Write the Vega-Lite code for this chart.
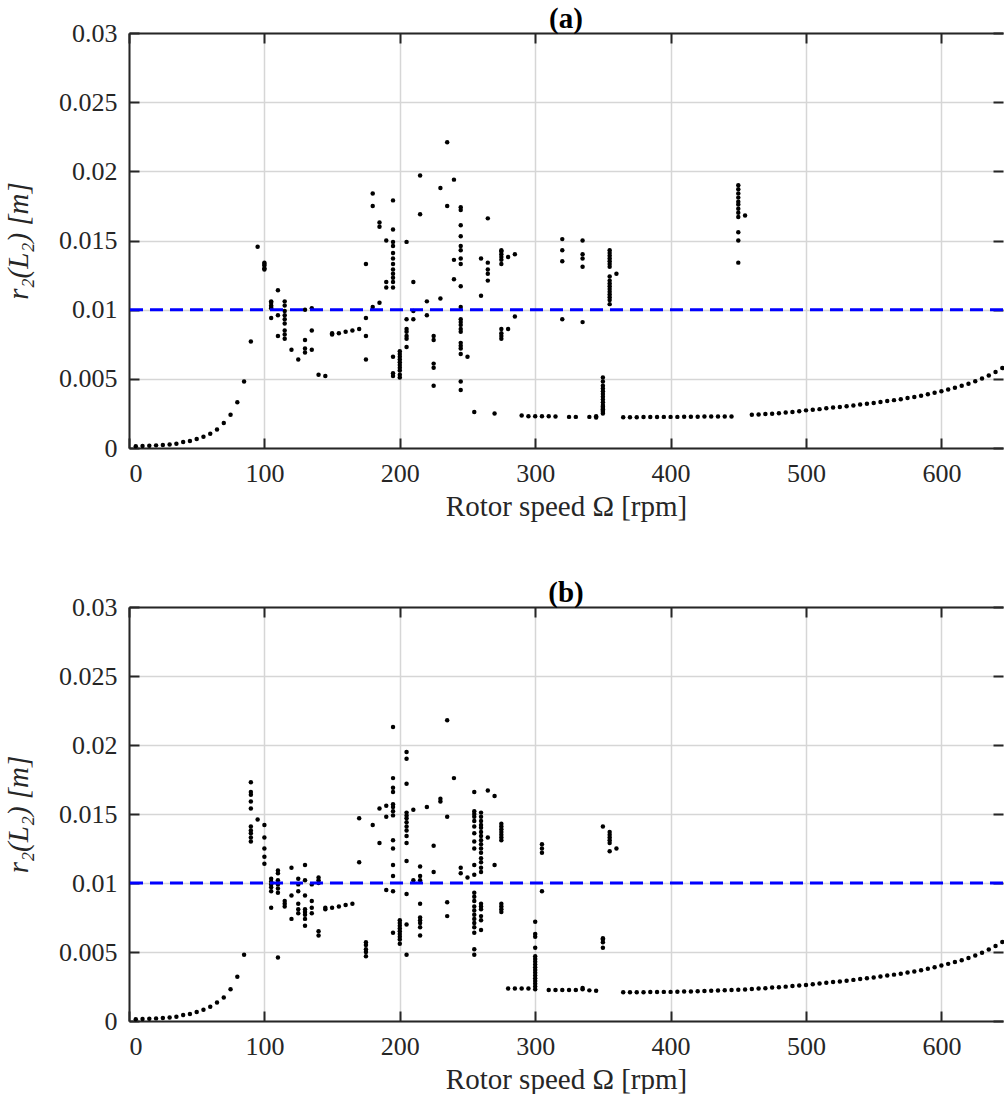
{
  "$schema": "https://vega.github.io/schema/vega-lite/v6.json",
  "padding": {"left": 4, "top": 5, "right": 0, "bottom": 0},
  "background": "white",
  "config": {
    "font": "Liberation Serif",
    "view": {"stroke": null},
    "axis": {
      "labelFont": "Liberation Serif", "titleFont": "Liberation Serif",
      "labelFontSize": 26, "titleFontSize": 29,
      "labelColor": "#262626", "titleColor": "#262626", "titleFontWeight": "normal",
      "tickColor": "#262626", "tickWidth": 2, "tickSize": -10,
      "domain": true, "domainColor": "#262626", "domainWidth": 2,
      "gridColor": "#d6d6d6", "gridWidth": 1.5
    },
    "title": {"font": "Liberation Serif", "fontSize": 29, "fontWeight": "bold", "color": "#000000", "anchor": "middle", "baseline": "alphabetic", "offset": -14, "frame": "group"}
  },
  "datasets": {
    "a": [
      {"x":5,"y":0.00012},{"x":10,"y":0.00014},{"x":15,"y":0.00017},{"x":20,"y":0.00019},{"x":25,"y":0.00022},{"x":30,"y":0.00026},{"x":35,"y":0.00031},{"x":40,"y":0.00043},{"x":45,"y":0.0005},{"x":50,"y":0.00065},{"x":55,"y":0.00082},{"x":60,"y":0.00103},{"x":65,"y":0.00134},{"x":70,"y":0.0018},{"x":75,"y":0.0024},{"x":80,"y":0.0033},{"x":85,"y":0.0048},
      {"x":90,"y":0.0077},{"x":95,"y":0.01455},
      {"x":100,"y":0.0134},{"x":100,"y":0.0133},{"x":100,"y":0.0132},{"x":100,"y":0.013},{"x":100,"y":0.0129},
      {"x":105,"y":0.0106},{"x":105,"y":0.0105},{"x":105,"y":0.0103},{"x":105,"y":0.0102},{"x":105,"y":0.0101},{"x":105,"y":0.0094},
      {"x":110,"y":0.0114},{"x":110,"y":0.0096},{"x":110,"y":0.0081},
      {"x":115,"y":0.0106},{"x":115,"y":0.0103},{"x":115,"y":0.0099},{"x":115,"y":0.0096},{"x":115,"y":0.0093},{"x":115,"y":0.009},{"x":115,"y":0.0085},{"x":115,"y":0.0082},{"x":115,"y":0.0079},
      {"x":120,"y":0.0071},{"x":125,"y":0.0064},
      {"x":130,"y":0.01},{"x":130,"y":0.0078},{"x":130,"y":0.0072},{"x":130,"y":0.0069},
      {"x":135,"y":0.0101},{"x":135,"y":0.0085},{"x":135,"y":0.0071},
      {"x":140,"y":0.0053},{"x":145,"y":0.0052},
      {"x":150,"y":0.0083},{"x":150,"y":0.0082},{"x":155,"y":0.0083},{"x":160,"y":0.0084},{"x":165,"y":0.0085},{"x":170,"y":0.0086},
      {"x":175,"y":0.0133},{"x":175,"y":0.0094},{"x":175,"y":0.0081},{"x":175,"y":0.0064},
      {"x":180,"y":0.0184},{"x":180,"y":0.0175},{"x":180,"y":0.0102},
      {"x":185,"y":0.0163},{"x":185,"y":0.016},{"x":185,"y":0.0105},
      {"x":190,"y":0.015},{"x":190,"y":0.012},{"x":190,"y":0.0116},
      {"x":195,"y":0.0179},{"x":195,"y":0.0158},{"x":195,"y":0.0149},{"x":195,"y":0.0146},{"x":195,"y":0.0141},{"x":195,"y":0.0137},{"x":195,"y":0.0133},{"x":195,"y":0.0129},{"x":195,"y":0.0126},{"x":195,"y":0.0123},{"x":195,"y":0.012},{"x":195,"y":0.0116},{"x":195,"y":0.0066},{"x":195,"y":0.0054},{"x":195,"y":0.0052},
      {"x":200,"y":0.007},{"x":200,"y":0.0068},{"x":200,"y":0.0066},{"x":200,"y":0.0064},{"x":200,"y":0.0062},{"x":200,"y":0.006},{"x":200,"y":0.0058},{"x":200,"y":0.0056},{"x":200,"y":0.0053},{"x":200,"y":0.0051},
      {"x":205,"y":0.0149},{"x":205,"y":0.0093},{"x":205,"y":0.0086},{"x":205,"y":0.0084},{"x":205,"y":0.0081},{"x":205,"y":0.0079},{"x":205,"y":0.0073},
      {"x":210,"y":0.012},{"x":210,"y":0.0099},{"x":210,"y":0.0093},
      {"x":215,"y":0.0197},{"x":215,"y":0.0169},
      {"x":220,"y":0.0106},{"x":220,"y":0.0096},
      {"x":225,"y":0.0081},{"x":225,"y":0.0078},{"x":225,"y":0.0061},{"x":225,"y":0.0058},{"x":225,"y":0.0045},
      {"x":230,"y":0.0188},{"x":230,"y":0.0108},
      {"x":235,"y":0.0221},{"x":235,"y":0.0175},
      {"x":240,"y":0.0194},{"x":240,"y":0.0136},{"x":240,"y":0.0122},
      {"x":245,"y":0.0174},{"x":245,"y":0.0172},{"x":245,"y":0.0161},{"x":245,"y":0.0153},{"x":245,"y":0.0146},{"x":245,"y":0.0143},{"x":245,"y":0.0137},{"x":245,"y":0.0133},{"x":245,"y":0.0117},{"x":245,"y":0.0102},{"x":245,"y":0.0093},{"x":245,"y":0.0091},{"x":245,"y":0.0089},{"x":245,"y":0.0086},{"x":245,"y":0.0084},{"x":245,"y":0.0076},{"x":245,"y":0.0074},{"x":245,"y":0.0072},{"x":245,"y":0.0068},{"x":245,"y":0.0048},{"x":245,"y":0.0042},
      {"x":250,"y":0.0066},{"x":255,"y":0.0026},
      {"x":260,"y":0.0137},{"x":260,"y":0.011},
      {"x":265,"y":0.0166},{"x":265,"y":0.0134},{"x":265,"y":0.0129},{"x":265,"y":0.0126},{"x":265,"y":0.0121},
      {"x":270,"y":0.0025},
      {"x":275,"y":0.0143},{"x":275,"y":0.0142},{"x":275,"y":0.014},{"x":275,"y":0.0138},{"x":275,"y":0.0136},{"x":275,"y":0.0133},{"x":275,"y":0.0086},{"x":275,"y":0.0083},{"x":275,"y":0.0081},{"x":275,"y":0.0079},
      {"x":280,"y":0.0138},{"x":280,"y":0.0086},
      {"x":285,"y":0.014},{"x":285,"y":0.0095},
      {"x":290,"y":0.00235},{"x":295,"y":0.0023},{"x":300,"y":0.0023},{"x":305,"y":0.0023},{"x":310,"y":0.0023},{"x":315,"y":0.00228},
      {"x":320,"y":0.0151},{"x":320,"y":0.0143},{"x":320,"y":0.0135},{"x":320,"y":0.0093},
      {"x":325,"y":0.00225},{"x":330,"y":0.00225},
      {"x":335,"y":0.015},{"x":335,"y":0.014},{"x":335,"y":0.0137},{"x":335,"y":0.0131},{"x":335,"y":0.0091},
      {"x":340,"y":0.00225},{"x":345,"y":0.0023},{"x":345,"y":0.0022},
      {"x":350,"y":0.0051},{"x":350,"y":0.0048},{"x":350,"y":0.0045},{"x":350,"y":0.0043},{"x":350,"y":0.0041},{"x":350,"y":0.0039},{"x":350,"y":0.0037},{"x":350,"y":0.0035},{"x":350,"y":0.0033},{"x":350,"y":0.0031},{"x":350,"y":0.003},{"x":350,"y":0.0029},{"x":350,"y":0.0028},{"x":350,"y":0.0027},{"x":350,"y":0.0026},{"x":350,"y":0.0025},
      {"x":355,"y":0.0143},{"x":355,"y":0.0141},{"x":355,"y":0.0139},{"x":355,"y":0.0137},{"x":355,"y":0.0135},{"x":355,"y":0.0133},{"x":355,"y":0.0131},{"x":355,"y":0.0124},{"x":355,"y":0.0121},{"x":355,"y":0.0119},{"x":355,"y":0.0117},{"x":355,"y":0.0115},{"x":355,"y":0.0113},{"x":355,"y":0.0111},{"x":355,"y":0.0109},{"x":355,"y":0.0107},{"x":355,"y":0.0104},
      {"x":360,"y":0.0126},
      {"x":365,"y":0.00223},{"x":370,"y":0.00223},{"x":375,"y":0.00223},{"x":380,"y":0.00224},{"x":385,"y":0.00224},{"x":390,"y":0.00224},{"x":395,"y":0.00225},{"x":400,"y":0.00225},{"x":405,"y":0.00225},{"x":410,"y":0.00226},{"x":415,"y":0.00226},{"x":420,"y":0.00226},{"x":425,"y":0.00227},{"x":430,"y":0.00227},{"x":435,"y":0.00228},{"x":440,"y":0.00228},{"x":445,"y":0.00228},
      {"x":450,"y":0.019},{"x":450,"y":0.0187},{"x":450,"y":0.0184},{"x":450,"y":0.0181},{"x":450,"y":0.0178},{"x":450,"y":0.0176},{"x":450,"y":0.0173},{"x":450,"y":0.017},{"x":450,"y":0.0167},{"x":450,"y":0.0156},{"x":450,"y":0.015},{"x":450,"y":0.0134},
      {"x":455,"y":0.0168},
      {"x":460,"y":0.0024},{"x":465,"y":0.00242},{"x":470,"y":0.00245},{"x":475,"y":0.00248},{"x":480,"y":0.00252},{"x":485,"y":0.00256},{"x":490,"y":0.0026},{"x":495,"y":0.00266},{"x":500,"y":0.00272},{"x":505,"y":0.00276},{"x":510,"y":0.00281},{"x":515,"y":0.00287},{"x":520,"y":0.00292},{"x":525,"y":0.00297},{"x":530,"y":0.00302},{"x":535,"y":0.00308},{"x":540,"y":0.00314},{"x":545,"y":0.0032},{"x":550,"y":0.00326},{"x":555,"y":0.00332},{"x":560,"y":0.00339},{"x":565,"y":0.00346},{"x":570,"y":0.00353},{"x":575,"y":0.00361},{"x":580,"y":0.00369},{"x":585,"y":0.00378},{"x":590,"y":0.00388},{"x":595,"y":0.00399},{"x":600,"y":0.00411},{"x":605,"y":0.00423},{"x":610,"y":0.00436},{"x":615,"y":0.0045},{"x":620,"y":0.00465},{"x":625,"y":0.00482},{"x":630,"y":0.00502},{"x":635,"y":0.00524},{"x":640,"y":0.00549},{"x":645,"y":0.00578}
    ],
    "b": [
      {"x":5,"y":0.00012},{"x":10,"y":0.00014},{"x":15,"y":0.00017},{"x":20,"y":0.00019},{"x":25,"y":0.00022},{"x":30,"y":0.00026},{"x":35,"y":0.00031},{"x":40,"y":0.00043},{"x":45,"y":0.0005},{"x":50,"y":0.00065},{"x":55,"y":0.00082},{"x":60,"y":0.00103},{"x":65,"y":0.00134},{"x":70,"y":0.0017},{"x":75,"y":0.0023},{"x":80,"y":0.0032},{"x":85,"y":0.0048},
      {"x":90,"y":0.0173},{"x":90,"y":0.0166},{"x":90,"y":0.0164},{"x":90,"y":0.0159},{"x":90,"y":0.0154},{"x":90,"y":0.0141},{"x":90,"y":0.0138},{"x":90,"y":0.0136},{"x":90,"y":0.0133},{"x":90,"y":0.013},
      {"x":95,"y":0.0146},
      {"x":100,"y":0.0142},{"x":100,"y":0.0133},{"x":100,"y":0.0125},{"x":100,"y":0.0119},{"x":100,"y":0.0114},
      {"x":105,"y":0.0103},{"x":105,"y":0.0101},{"x":105,"y":0.0099},{"x":105,"y":0.0097},{"x":105,"y":0.0094},{"x":105,"y":0.0082},
      {"x":110,"y":0.0109},{"x":110,"y":0.0107},{"x":110,"y":0.0102},{"x":110,"y":0.0099},{"x":110,"y":0.0096},{"x":110,"y":0.0093},{"x":110,"y":0.0046},
      {"x":115,"y":0.0087},{"x":115,"y":0.0085},{"x":115,"y":0.0083},
      {"x":120,"y":0.0111},{"x":120,"y":0.0091},{"x":120,"y":0.0074},
      {"x":125,"y":0.0103},{"x":125,"y":0.0099},{"x":125,"y":0.0094},{"x":125,"y":0.0085},{"x":125,"y":0.0081},{"x":125,"y":0.0078},
      {"x":130,"y":0.0113},{"x":130,"y":0.0102},{"x":130,"y":0.0091},{"x":130,"y":0.0081},{"x":130,"y":0.0079},{"x":130,"y":0.0077},{"x":130,"y":0.0074},{"x":130,"y":0.0069},
      {"x":135,"y":0.0099},{"x":135,"y":0.0087},{"x":135,"y":0.0082},{"x":135,"y":0.0078},
      {"x":140,"y":0.0104},{"x":140,"y":0.0102},{"x":140,"y":0.01},{"x":140,"y":0.0065},{"x":140,"y":0.0062},
      {"x":145,"y":0.0082},{"x":145,"y":0.0081},{"x":150,"y":0.0082},{"x":155,"y":0.0083},{"x":160,"y":0.0084},{"x":165,"y":0.0085},
      {"x":170,"y":0.0147},{"x":170,"y":0.0115},
      {"x":175,"y":0.0057},{"x":175,"y":0.0055},{"x":175,"y":0.0052},{"x":175,"y":0.005},{"x":175,"y":0.0047},
      {"x":180,"y":0.0142},
      {"x":185,"y":0.0154},{"x":185,"y":0.0129},
      {"x":190,"y":0.0156},{"x":190,"y":0.0148},{"x":190,"y":0.0095},
      {"x":195,"y":0.0213},{"x":195,"y":0.0176},{"x":195,"y":0.0169},{"x":195,"y":0.0166},{"x":195,"y":0.0157},{"x":195,"y":0.0155},{"x":195,"y":0.0152},{"x":195,"y":0.0149},{"x":195,"y":0.0131},{"x":195,"y":0.0125},{"x":195,"y":0.0113},{"x":195,"y":0.0105},{"x":195,"y":0.0094},{"x":195,"y":0.0064},
      {"x":200,"y":0.0073},{"x":200,"y":0.0071},{"x":200,"y":0.0069},{"x":200,"y":0.0067},{"x":200,"y":0.0065},{"x":200,"y":0.0063},{"x":200,"y":0.0061},{"x":200,"y":0.0059},{"x":200,"y":0.0056},
      {"x":205,"y":0.0195},{"x":205,"y":0.019},{"x":205,"y":0.0172},{"x":205,"y":0.0151},{"x":205,"y":0.0149},{"x":205,"y":0.0147},{"x":205,"y":0.0144},{"x":205,"y":0.0141},{"x":205,"y":0.0138},{"x":205,"y":0.0134},{"x":205,"y":0.0129},{"x":205,"y":0.0116},{"x":205,"y":0.0092},{"x":205,"y":0.007},{"x":205,"y":0.0048},
      {"x":210,"y":0.0153},{"x":210,"y":0.0102},
      {"x":215,"y":0.0112},{"x":215,"y":0.0105},{"x":215,"y":0.0102},{"x":215,"y":0.0085},{"x":215,"y":0.0075},{"x":215,"y":0.0073},{"x":215,"y":0.0071},{"x":215,"y":0.0068},{"x":215,"y":0.0062},
      {"x":220,"y":0.0155},
      {"x":225,"y":0.0127},{"x":225,"y":0.0108},
      {"x":230,"y":0.0161},{"x":230,"y":0.0159},
      {"x":235,"y":0.0218},{"x":235,"y":0.0148},{"x":235,"y":0.0086},{"x":235,"y":0.0076},
      {"x":240,"y":0.0176},
      {"x":245,"y":0.0111},{"x":245,"y":0.0107},
      {"x":250,"y":0.0104},
      {"x":255,"y":0.0166},{"x":255,"y":0.0152},{"x":255,"y":0.015},{"x":255,"y":0.0148},{"x":255,"y":0.0145},{"x":255,"y":0.0141},{"x":255,"y":0.0136},{"x":255,"y":0.013},{"x":255,"y":0.0125},{"x":255,"y":0.0113},{"x":255,"y":0.0106},{"x":255,"y":0.0093},{"x":255,"y":0.009},{"x":255,"y":0.0087},{"x":255,"y":0.0083},{"x":255,"y":0.008},{"x":255,"y":0.0077},{"x":255,"y":0.0074},{"x":255,"y":0.0071},{"x":255,"y":0.0068},{"x":255,"y":0.0064},{"x":255,"y":0.0052},{"x":255,"y":0.0048},
      {"x":260,"y":0.0151},{"x":260,"y":0.0148},{"x":260,"y":0.0145},{"x":260,"y":0.0142},{"x":260,"y":0.014},{"x":260,"y":0.0137},{"x":260,"y":0.0134},{"x":260,"y":0.0131},{"x":260,"y":0.0128},{"x":260,"y":0.0125},{"x":260,"y":0.0122},{"x":260,"y":0.0118},{"x":260,"y":0.0115},{"x":260,"y":0.0111},{"x":260,"y":0.0108},{"x":260,"y":0.0085},{"x":260,"y":0.0083},{"x":260,"y":0.0081},{"x":260,"y":0.0076},{"x":260,"y":0.0073},{"x":260,"y":0.0066},
      {"x":265,"y":0.0167},{"x":265,"y":0.0133},
      {"x":270,"y":0.0163},{"x":270,"y":0.0113},
      {"x":275,"y":0.0143},{"x":275,"y":0.0141},{"x":275,"y":0.0139},{"x":275,"y":0.0137},{"x":275,"y":0.0135},{"x":275,"y":0.0133},{"x":275,"y":0.0131},{"x":275,"y":0.0085},{"x":275,"y":0.0083},{"x":275,"y":0.0081},{"x":275,"y":0.0079},
      {"x":280,"y":0.00235},{"x":285,"y":0.00235},{"x":290,"y":0.00235},{"x":295,"y":0.00235},
      {"x":300,"y":0.0072},{"x":300,"y":0.0063},{"x":300,"y":0.0061},{"x":300,"y":0.0053},{"x":300,"y":0.0047},{"x":300,"y":0.0045},{"x":300,"y":0.0043},{"x":300,"y":0.0041},{"x":300,"y":0.0039},{"x":300,"y":0.0037},{"x":300,"y":0.0035},{"x":300,"y":0.0033},{"x":300,"y":0.0031},{"x":300,"y":0.0029},{"x":300,"y":0.0027},{"x":300,"y":0.0025},{"x":300,"y":0.0023},
      {"x":305,"y":0.0128},{"x":305,"y":0.0125},{"x":305,"y":0.0122},{"x":305,"y":0.0094},
      {"x":310,"y":0.00225},{"x":315,"y":0.00225},{"x":320,"y":0.00225},{"x":325,"y":0.00225},{"x":330,"y":0.00225},{"x":335,"y":0.0024},{"x":335,"y":0.0023},{"x":340,"y":0.00222},{"x":345,"y":0.0022},
      {"x":350,"y":0.0141},{"x":350,"y":0.006},{"x":350,"y":0.0059},{"x":350,"y":0.0057},{"x":350,"y":0.0053},
      {"x":355,"y":0.0137},{"x":355,"y":0.0135},{"x":355,"y":0.0133},{"x":355,"y":0.0131},{"x":355,"y":0.0129},{"x":355,"y":0.0123},
      {"x":360,"y":0.0125},
      {"x":365,"y":0.00208},{"x":370,"y":0.00208},{"x":375,"y":0.00209},{"x":380,"y":0.00209},{"x":385,"y":0.0021},{"x":390,"y":0.0021},{"x":395,"y":0.00211},{"x":400,"y":0.00211},{"x":405,"y":0.00212},{"x":410,"y":0.00213},{"x":415,"y":0.00214},{"x":420,"y":0.00215},{"x":425,"y":0.00217},{"x":430,"y":0.00219},{"x":435,"y":0.00221},{"x":440,"y":0.00223},{"x":445,"y":0.00225},{"x":450,"y":0.00227},{"x":455,"y":0.00229},{"x":460,"y":0.00232},{"x":465,"y":0.00235},{"x":470,"y":0.00238},{"x":475,"y":0.00242},{"x":480,"y":0.00245},{"x":485,"y":0.00249},{"x":490,"y":0.00253},{"x":495,"y":0.00257},{"x":500,"y":0.00261},
      {"x":505,"y":0.00266},{"x":510,"y":0.00271},{"x":515,"y":0.00277},{"x":520,"y":0.00282},{"x":525,"y":0.00287},{"x":530,"y":0.00292},{"x":535,"y":0.00298},{"x":540,"y":0.00304},{"x":545,"y":0.0031},{"x":550,"y":0.00316},{"x":555,"y":0.00322},{"x":560,"y":0.00329},{"x":565,"y":0.00336},{"x":570,"y":0.00343},{"x":575,"y":0.00351},{"x":580,"y":0.00359},{"x":585,"y":0.00368},{"x":590,"y":0.00378},{"x":595,"y":0.00389},{"x":600,"y":0.00402},{"x":605,"y":0.00414},{"x":610,"y":0.00427},{"x":615,"y":0.00441},{"x":620,"y":0.00457},{"x":625,"y":0.00475},{"x":630,"y":0.00495},{"x":635,"y":0.00518},{"x":640,"y":0.00544},{"x":645,"y":0.00573}
    ],
    "ref": [{"y": 0.01}],
    "frame": [{"x": 0, "y": 0}]
  },
  "spacing": 159,
  "bounds": "flush",
  "vconcat": [
    {
      "width": 874, "height": 415,
      "title": {"text": "(a)"},
      "resolve": {"axis": {"x": "independent", "y": "independent"}},
      "layer": [
        {
          "data": {"name": "a"},
          "mark": {"type": "point", "filled": true, "size": 20, "color": "#000000", "opacity": 1},
          "encoding": {
            "x": {"field": "x", "type": "quantitative", "scale": {"domain": [0, 645.5], "nice": false, "zero": false},
              "axis": {"values": [0,100,200,300,400,500,600], "title": "Rotor speed Ω [rpm]", "labelPadding": 22, "titlePadding": 6, "grid": true}},
            "y": {"field": "y", "type": "quantitative", "scale": {"domain": [0, 0.03], "nice": false},
              "axis": {"values": [0,0.005,0.01,0.015,0.02,0.025,0.03], "format": "~g", "title": "r₂(L₂) [m]", "titleFontStyle": "italic", "labelPadding": 22, "titlePadding": 25, "grid": true}}
          }
        },
        {
          "data": {"name": "ref"},
          "mark": {"type": "rule", "color": "#0000ff", "strokeWidth": 3, "strokeDash": [13, 7]},
          "encoding": {"y": {"field": "y", "type": "quantitative", "scale": {"domain": [0, 0.03], "nice": false}, "axis": null}}
        },
        {
          "data": {"name": "frame"},
          "mark": {"type": "point", "opacity": 0},
          "encoding": {
            "x": {"field": "x", "type": "quantitative", "scale": {"domain": [0, 645.5], "nice": false, "zero": false},
              "axis": {"orient": "top", "values": [0,100,200,300,400,500,600], "labels": false, "title": null, "grid": false}},
            "y": {"field": "y", "type": "quantitative", "scale": {"domain": [0, 0.03], "nice": false},
              "axis": {"orient": "right", "values": [0,0.005,0.01,0.015,0.02,0.025,0.03], "labels": false, "title": null, "grid": false, "domain": false}}
          }
        }
      ]
    },
    {
      "width": 874, "height": 414,
      "title": {"text": "(b)"},
      "resolve": {"axis": {"x": "independent", "y": "independent"}},
      "layer": [
        {
          "data": {"name": "b"},
          "mark": {"type": "point", "filled": true, "size": 20, "color": "#000000", "opacity": 1},
          "encoding": {
            "x": {"field": "x", "type": "quantitative", "scale": {"domain": [0, 645.5], "nice": false, "zero": false},
              "axis": {"values": [0,100,200,300,400,500,600], "title": "Rotor speed Ω [rpm]", "labelPadding": 22, "titlePadding": 6, "grid": true}},
            "y": {"field": "y", "type": "quantitative", "scale": {"domain": [0, 0.03], "nice": false},
              "axis": {"values": [0,0.005,0.01,0.015,0.02,0.025,0.03], "format": "~g", "title": "r₂(L₂) [m]", "titleFontStyle": "italic", "labelPadding": 22, "titlePadding": 25, "grid": true}}
          }
        },
        {
          "data": {"name": "ref"},
          "mark": {"type": "rule", "color": "#0000ff", "strokeWidth": 3, "strokeDash": [13, 7]},
          "encoding": {"y": {"field": "y", "type": "quantitative", "scale": {"domain": [0, 0.03], "nice": false}, "axis": null}}
        },
        {
          "data": {"name": "frame"},
          "mark": {"type": "point", "opacity": 0},
          "encoding": {
            "x": {"field": "x", "type": "quantitative", "scale": {"domain": [0, 645.5], "nice": false, "zero": false},
              "axis": {"orient": "top", "values": [0,100,200,300,400,500,600], "labels": false, "title": null, "grid": false}},
            "y": {"field": "y", "type": "quantitative", "scale": {"domain": [0, 0.03], "nice": false},
              "axis": {"orient": "right", "values": [0,0.005,0.01,0.015,0.02,0.025,0.03], "labels": false, "title": null, "grid": false, "domain": false}}
          }
        }
      ]
    }
  ]
}
